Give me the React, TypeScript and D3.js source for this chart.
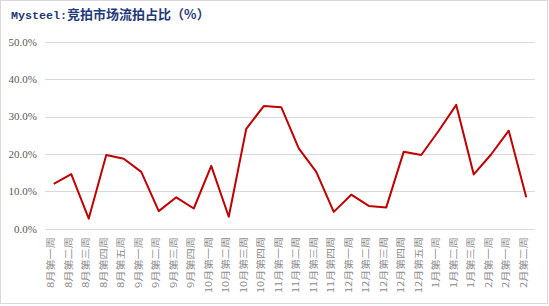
import React from "react";
import * as d3 from "d3";

const categories = [
  "8月第一周", "8月第二周", "8月第三周", "8月第四周", "8月第五周",
  "9月第一周", "9月第二周", "9月第三周", "9月第四周",
  "10月第一周", "10月第二周", "10月第三周", "10月第四周",
  "11月第一周", "11月第二周", "11月第三周", "11月第四周",
  "12月第一周", "12月第二周", "12月第三周", "12月第四周", "12月第五周",
  "1月第一周", "1月第二周", "1月第三周",
  "2月第一周", "2月第一周", "2月第二周",
];
const values = [
  12.0, 14.6, 2.7, 19.7, 18.7, 15.2, 4.7, 8.4, 5.4, 16.8, 3.2, 26.7, 32.8, 32.5,
  21.5, 15.2, 4.5, 9.1, 6.1, 5.7, 20.6, 19.7, 26.2, 33.1, 14.5, 19.9, 26.2, 8.4,
];
const yTicks = [0, 10, 20, 30, 40, 50];
const title = "竞拍市场流拍占比（%）";
const titlePrefix = "Mysteel:";

export default function App() {
  const W = 549, H = 306;
  const left = 45, right = 535, top = 41.7, bottom = 228.7;
  const x = d3.scaleBand<number>().domain(d3.range(categories.length)).range([left, right]);
  const y = d3.scaleLinear().domain([0, 50]).range([bottom, top]);
  const line = d3.line<number>()
    .x((_, i) => (x(i) as number) + x.bandwidth() / 2)
    .y((d) => y(d));
  return (
    <svg width={W} height={H} style={{ position: "absolute", left: 0, top: 0 }}>
      <rect x={0} y={0} width={W} height={H} fill="#fff" />
      <rect x={0.5} y={0.5} width={547} height={303} fill="none" stroke="#D9D9D9" />
      <text x={11} y={18.5} fill="#1F3A78" fontWeight="bold">
        <tspan fontFamily="'Liberation Mono', 'DejaVu Sans Mono', monospace" fontSize={11.7}>{titlePrefix}</tspan>
        <tspan fontFamily="'Noto Sans CJK SC', sans-serif" fontSize={13}>{title}</tspan>
      </text>
      {yTicks.map((t) => (
        <g key={t}>
          <line x1={left} x2={right} y1={Math.round(y(t)) + 0.5} y2={Math.round(y(t)) + 0.5} stroke="#D9D9D9" strokeWidth={1} />
          <text x={37} y={y(t)} dy="0.35em" textAnchor="end" fontSize={11} fill="#595959"
            fontFamily="'Liberation Serif', 'Times New Roman', serif">{t.toFixed(1) + "%"}</text>
        </g>
      ))}
      <path d={line(values) || ""} fill="none" stroke="#C00000" strokeWidth={2} strokeLinejoin="round" />
      {categories.map((c, i) => {
        const cx = (x(i) as number) + x.bandwidth() / 2;
        const len = c.length === 5 ? 51 : 56;
        return (
          <text key={i} transform={`translate(${cx + 0.5},237) rotate(-90)`} textAnchor="end"
            fontSize={9} textLength={len} lengthAdjust="spacingAndGlyphs"
            fill="#8C8C8C" fontFamily="'Noto Sans CJK SC', sans-serif">{c}</text>
        );
      })}
    </svg>
  );
}
